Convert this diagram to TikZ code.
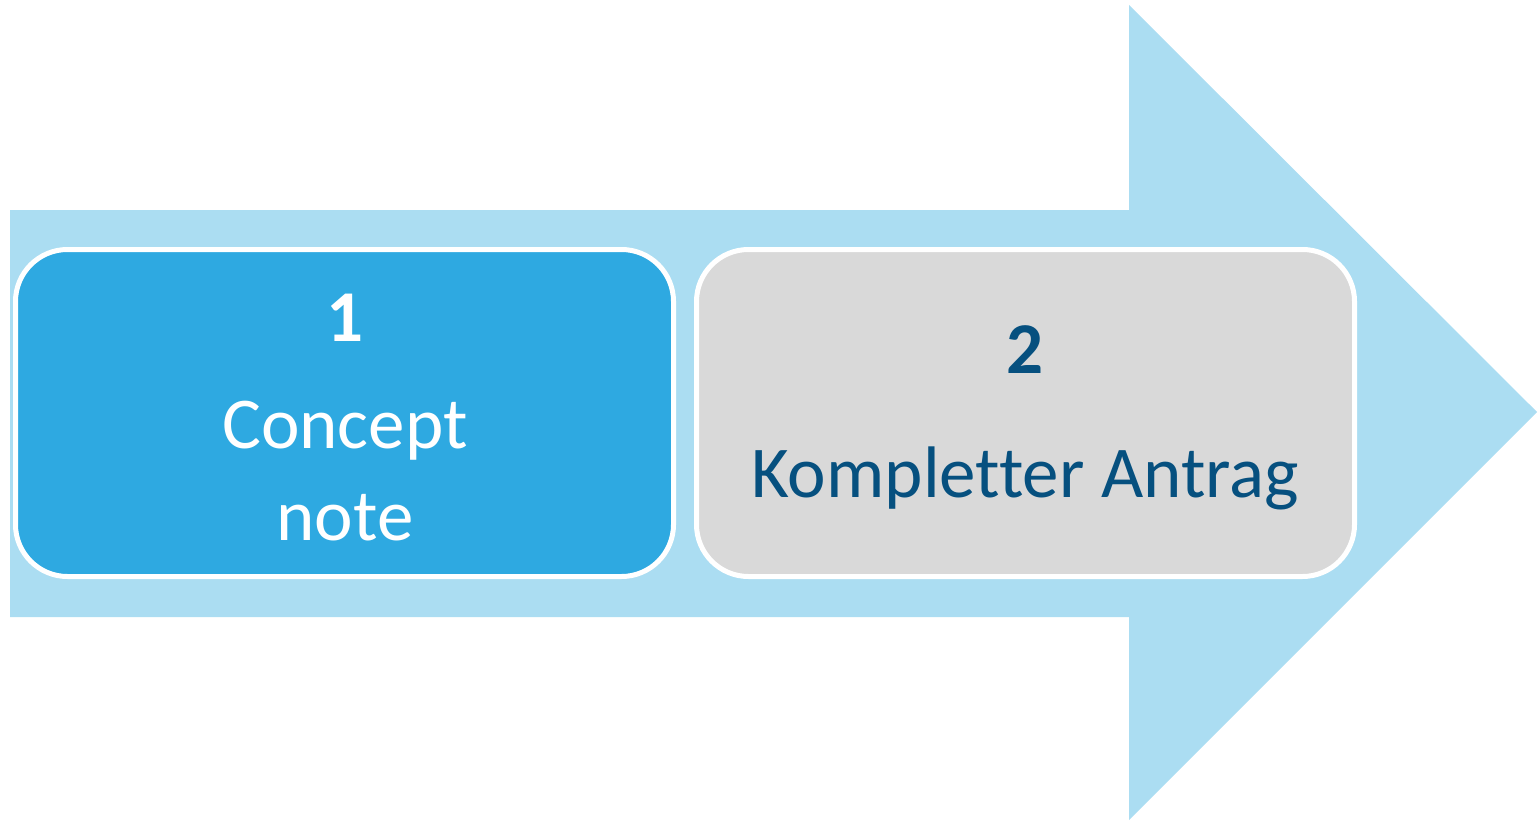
\documentclass[tikz,border=0pt]{standalone}
\usepackage{fontspec}
\setmainfont[Ligatures={NoCommon,NoRare}]{Carlito}
\definecolor{arrowblue}{HTML}{ABDDF2}
\definecolor{stepblue}{HTML}{2EA9E1}
\definecolor{stepgray}{HTML}{D9D9D9}
\definecolor{textblue}{HTML}{06507F}
\begin{document}
\begin{tikzpicture}[x=1pt,y=-1pt,
  stepbox/.style={draw=white,line width=5pt,rounded corners=52pt},
  steplabel/.style={anchor=base,inner sep=0pt,font=\fontsize{73}{86}\selectfont},
  stepnum/.style={steplabel,font=\fontsize{73}{86}\selectfont\bfseries}]
\useasboundingbox (0,0) rectangle (1538,821);
% big process arrow
\fill[arrowblue] (10,210) -- (1129,210) -- (1129,5) -- (1537,412)
  -- (1129,820) -- (1129,617) -- (10,617) -- cycle;
% step boxes
\filldraw[stepbox,fill=stepblue] (15.5,249.5) rectangle (673.5,576.5);
\filldraw[stepbox,fill=stepgray] (696.5,249.5) rectangle (1354.5,576.5);
% labels
\node[stepnum,text=white] (n1) at (345,341) {1};
\node[steplabel,text=white] (c1) at (345,448) {Concept};
\node[steplabel,text=white] (c2) at (345,540) {note};
\node[stepnum,text=textblue] (n2) at (1025,373) {2};
\node[steplabel,text=textblue] (k1) at (1025,497) {Kompletter Antrag};
\end{tikzpicture}
\end{document}
